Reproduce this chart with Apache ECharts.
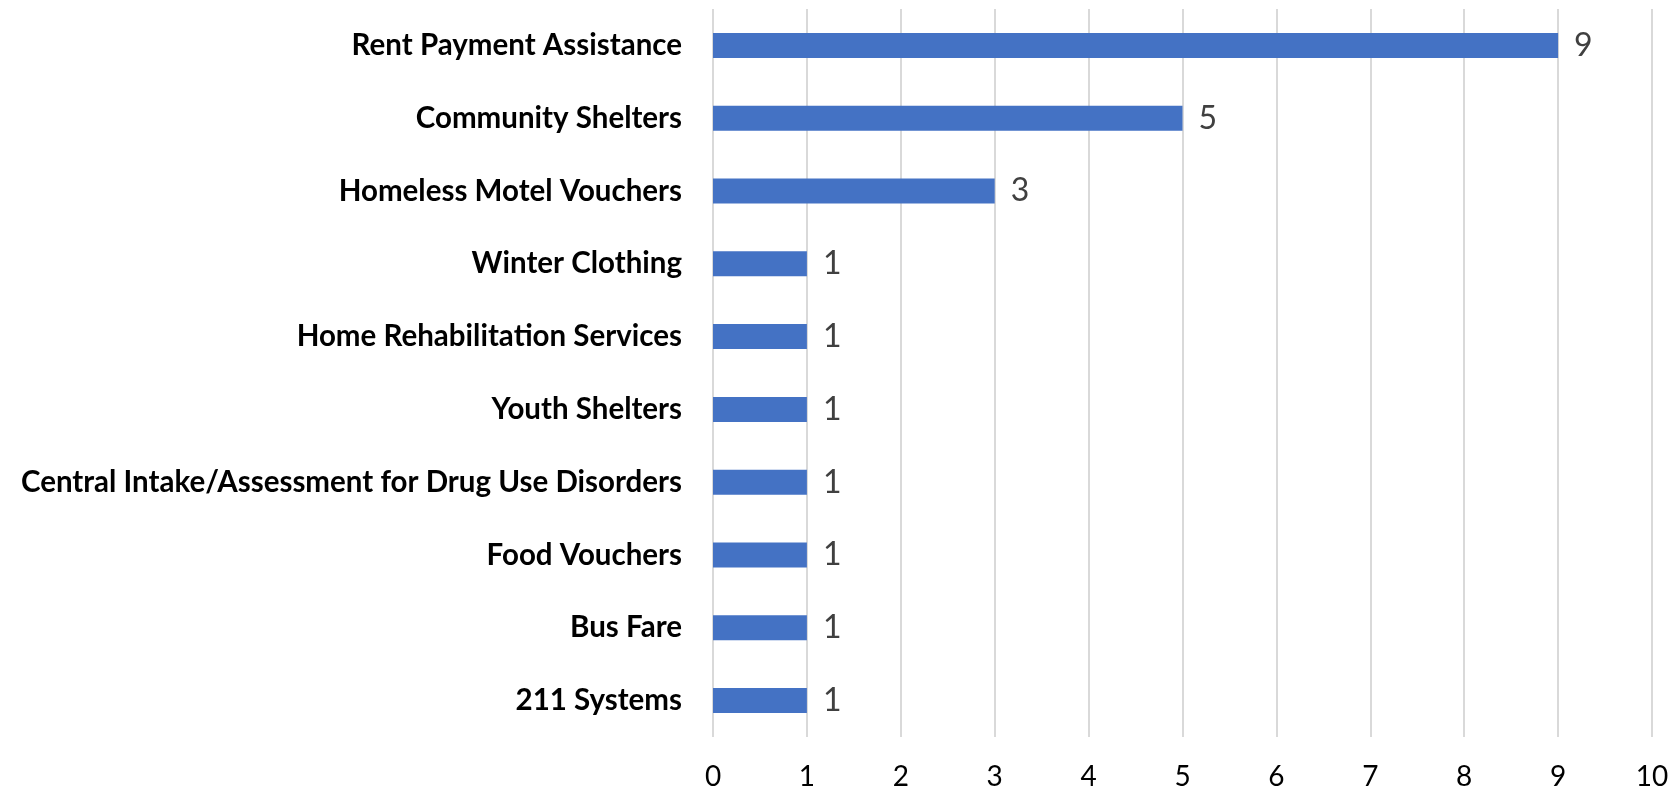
<!DOCTYPE html>
<html>
<head>
<meta charset="utf-8">
<script src="https://cdn.jsdelivr.net/npm/echarts@6/dist/echarts.min.js"></script>
<style>
  html, body { margin: 0; padding: 0; background: #fff; }
  #chart { width: 1672px; height: 793px; }
</style>
</head>
<body>
<div id="chart"></div>
<script>
const categories = [
  "Rent Payment Assistance",
  "Community Shelters",
  "Homeless Motel Vouchers",
  "Winter Clothing",
  "Home Rehabilitation Services",
  "Youth Shelters",
  "Central Intake/Assessment for Drug Use Disorders",
  "Food Vouchers",
  "Bus Fare",
  "211 Systems"
];
const values = [9, 5, 3, 1, 1, 1, 1, 1, 1, 1];
const xTicks = [0, 1, 2, 3, 4, 5, 6, 7, 8, 9, 10];

const chart = echarts.init(document.getElementById('chart'), null, { renderer: 'canvas' });
chart.setOption({
  animation: false,
  backgroundColor: '#ffffff',
  grid: { left: 713, right: 20, top: 9, bottom: 56, containLabel: false },
  xAxis: {
    type: 'value',
    min: xTicks[0],
    max: xTicks[xTicks.length - 1],
    interval: 1,
    axisLine: { show: false },
    axisTick: { show: false },
    splitLine: { show: true, lineStyle: { color: '#d9d9d9', width: 2 } },
    axisLabel: { fontFamily: 'Lato', fontSize: 28, color: '#000000', margin: 26 }
  },
  yAxis: {
    type: 'category',
    data: categories,
    inverse: true,
    axisLine: { show: false },
    axisTick: { show: false },
    axisLabel: { fontFamily: 'Lato', fontWeight: 'bold', fontSize: 29.5, color: '#000000', margin: 31 }
  },
  series: [{
    type: 'bar',
    data: values,
    barWidth: 25,
    itemStyle: { color: '#4472C4' },
    label: { show: true, position: 'right', distance: 16, fontFamily: 'Lato', fontSize: 32, color: '#404040' }
  }]
});
</script>
</body>
</html>
